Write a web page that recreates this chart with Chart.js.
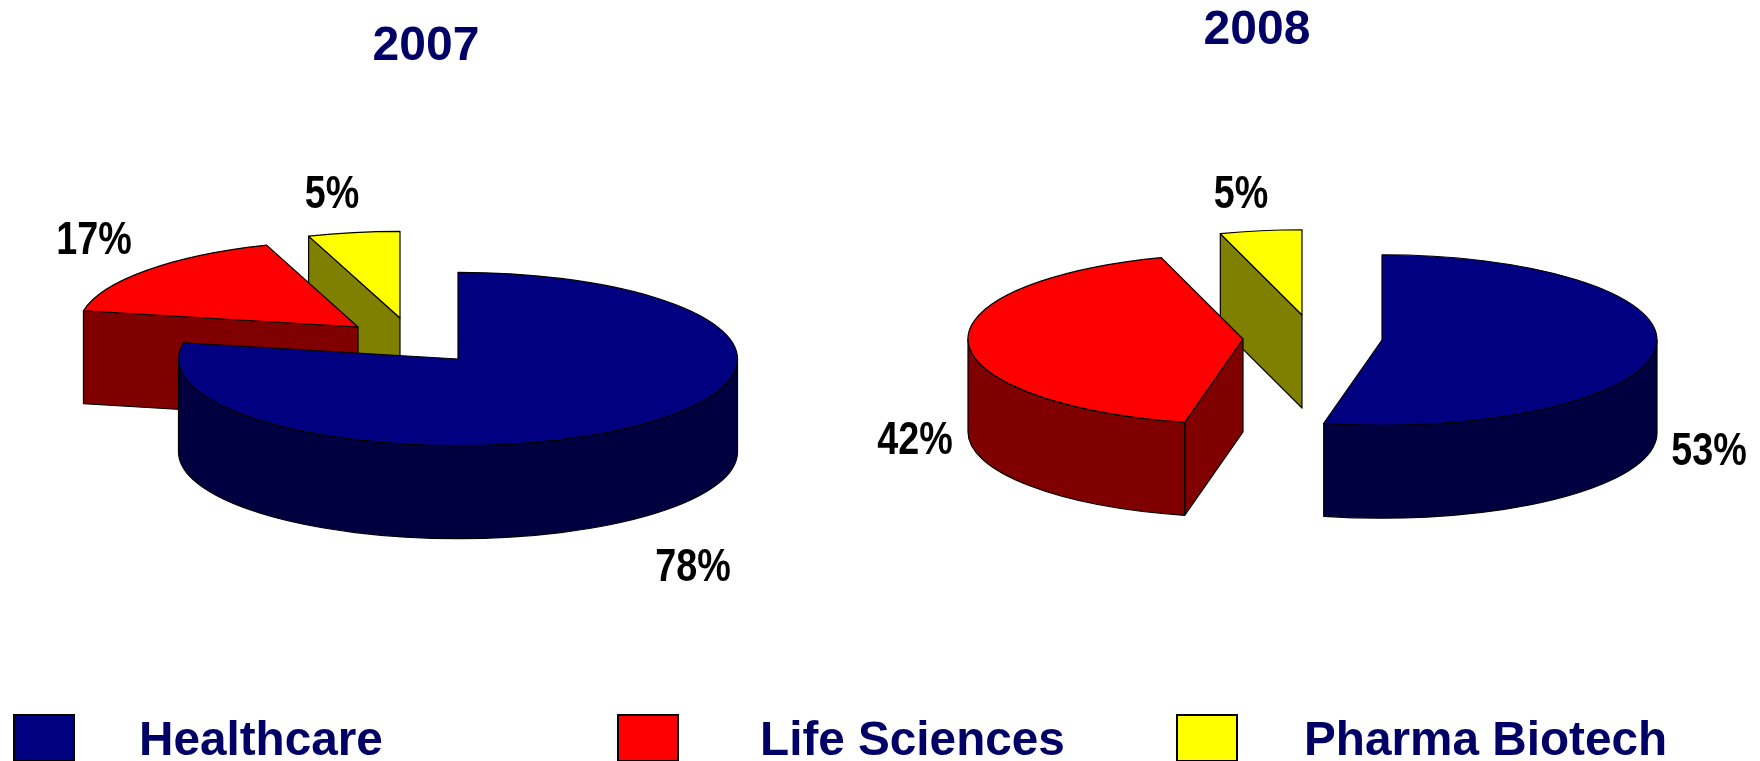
<!DOCTYPE html>
<html>
<head>
<meta charset="utf-8">
<title>2007 / 2008</title>
<script src="https://cdn.jsdelivr.net/npm/chart.js@4"></script>
<style>
  html, body { margin: 0; padding: 0; background: #fff; }
  body { width: 1760px; height: 761px; position: relative; overflow: hidden; font-family: "Liberation Sans", Arial, sans-serif; }
  canvas { position: absolute; top: 0; }
  #chart2007 { left: 0; }
  #chart2008 { left: 754px; }
  .swatch { position: absolute; top: 714px; width: 58px; height: 44px; border: 2px solid #000; }
  .legend-text { position: absolute; top: 711px; font-size: 47.7px; line-height: 56px; font-weight: bold; color: #000066; white-space: nowrap; }
</style>
</head>
<body>
<canvas id="chart2007" width="852" height="761"></canvas>
<canvas id="chart2008" width="1006" height="761"></canvas>

<div class="swatch" style="left:13px;background:#000080"></div>
<div class="legend-text" style="left:139px">Healthcare</div>
<div class="swatch" style="left:617px;background:#ff0000"></div>
<div class="legend-text" style="left:760px">Life Sciences</div>
<div class="swatch" style="left:1176px;background:#ffff00"></div>
<div class="legend-text" style="left:1304px">Pharma Biotech</div>

<script>
// Chart data (the printed labels are these rounded)
const categories = ["Healthcare", "Life Sciences", "Pharma Biotech"];
const values2007 = [78, 16.7, 5.3];
const values2008 = [53.4, 41.8, 4.8];

// Colours of the top faces and of the side walls
const topColors = ["#000080", "#ff0000", "#ffff00"];
const wallColors = ["#000040", "#800000", "#808000"];

const SQUASH = 0.31;
const DEPTH = 93;

// Fake the 3D look: the arcs come from Chart.js, walls are added around them
const pie3d = {
  id: "pie3d",
  beforeDatasetsDraw(chart, args, opts) {
    const ctx = chart.ctx;
    const meta = chart.getDatasetMeta(0);
    const values = chart.data.datasets[0].data;

    // back slices first so the front ones cover them
    for (let i = meta.data.length - 1; i >= 0; i--) {
      const arc = meta.data[i];
      const p = arc.getProps(["x", "y", "startAngle", "endAngle", "outerRadius"], true);
      const cx = opts.centers[i][0];
      const cy = opts.centers[i][1];
      const rx = p.outerRadius;
      const ry = rx * SQUASH;
      const a0 = p.startAngle;
      const a1 = p.endAngle;

      ctx.save();
      ctx.lineWidth = 1.2;
      ctx.strokeStyle = "#000";
      ctx.lineJoin = "round";
      ctx.fillStyle = wallColors[i];

      // cut faces which look toward the viewer
      [a0, a1].forEach(function (a, k) {
        const visible = k === 0 ? Math.cos(a) < -0.001 : Math.cos(a) > 0.001;
        if (!visible) return;
        const px = cx + rx * Math.cos(a);
        const py = cy + ry * Math.sin(a);
        ctx.beginPath();
        ctx.moveTo(cx, cy);
        ctx.lineTo(px, py);
        ctx.lineTo(px, py + DEPTH);
        ctx.lineTo(cx, cy + DEPTH);
        ctx.closePath();
        ctx.fill();
        ctx.stroke();
      });

      // outer wall, only the front half of the ellipse
      const s = Math.max(a0, 0);
      const e = Math.min(a1, Math.PI);
      if (e > s) {
        ctx.beginPath();
        ctx.ellipse(cx, cy, rx, ry, 0, s, e);
        ctx.ellipse(cx, cy + DEPTH, rx, ry, 0, e, s, true);
        ctx.closePath();
        ctx.fill();
        ctx.stroke();
      }

      // top face is the Chart.js arc itself, flattened
      ctx.save();
      ctx.translate(cx, cy);
      ctx.scale(1, SQUASH);
      ctx.translate(-p.x, -p.y);
      arc.draw(ctx);
      ctx.restore();

      ctx.beginPath();
      ctx.moveTo(cx, cy);
      ctx.ellipse(cx, cy, rx, ry, 0, a0, a1);
      ctx.closePath();
      ctx.stroke();
      ctx.restore();
    }

    // percent labels, narrowed like in the original
    ctx.save();
    ctx.fillStyle = "#000";
    ctx.font = "bold 46px 'Liberation Sans', Arial, sans-serif";
    ctx.textAlign = "center";
    ctx.textBaseline = "middle";
    values.forEach(function (v, i) {
      ctx.save();
      ctx.translate(opts.labels[i][0], opts.labels[i][1]);
      ctx.scale(0.82, 1);
      ctx.fillText(Math.round(v) + "%", 0, 0);
      ctx.restore();
    });
    ctx.restore();

    return false; // the arcs were drawn above
  }
};

function makePie(id, year, values, radius, titleTop, centers, labels) {
  const ctx = document.getElementById(id).getContext("2d");
  return new Chart(ctx, {
    type: "pie",
    data: {
      labels: categories,
      datasets: [{
        data: values,
        backgroundColor: topColors,
        borderWidth: 0,
        radius: radius
      }]
    },
    options: {
      responsive: false,
      animation: false,
      plugins: {
        legend: { display: false },
        tooltip: { enabled: false },
        title: {
          display: true,
          text: year,
          color: "#000066",
          font: { family: "'Liberation Sans', Arial, sans-serif", size: 48, weight: "bold" },
          padding: { top: titleTop, bottom: 0 }
        },
        pie3d: { centers: centers, labels: labels }
      }
    },
    plugins: [pie3d]
  });
}

makePie("chart2007", "2007", values2007, 279.5, 18,
  [[458, 359], [358, 327], [400, 318]],
  [[693, 568], [94, 241], [332, 195]]);

makePie("chart2008", "2008", values2008, 275, 2,
  [[628, 340], [489, 339], [548, 315]],
  [[955, 452], [161, 441], [487, 195]]);
</script>
</body>
</html>
